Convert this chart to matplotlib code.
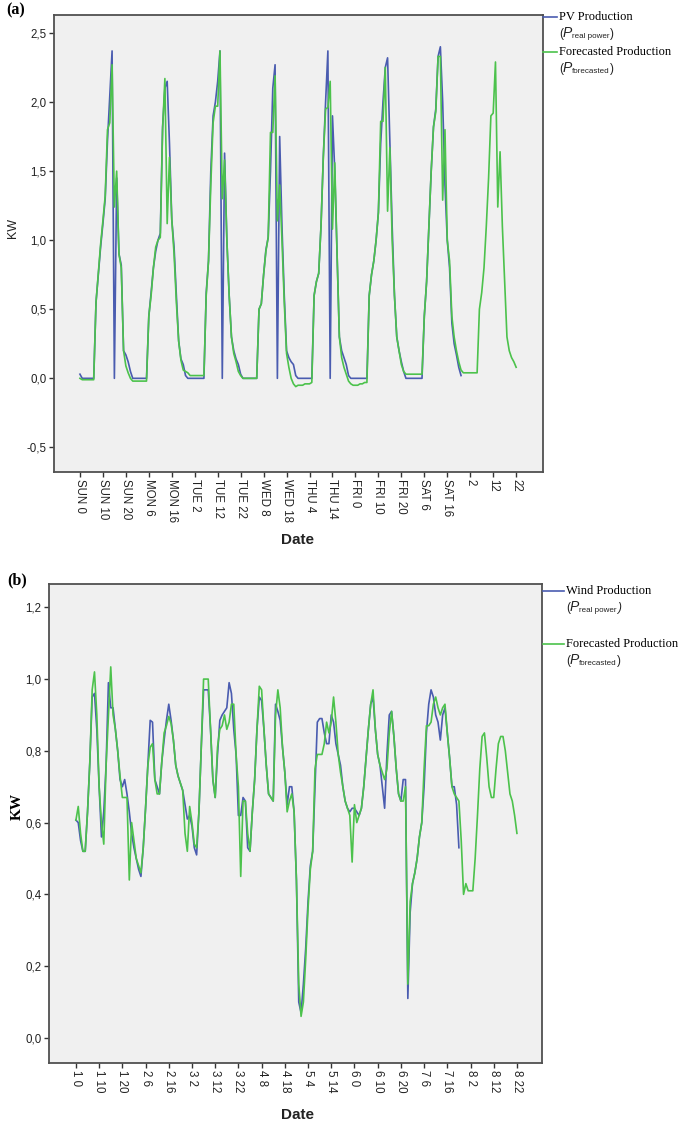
import numpy as np
import matplotlib
matplotlib.use("Agg")
import matplotlib.pyplot as plt
from matplotlib.lines import Line2D

plt.rcParams["font.family"] = ["Liberation Sans", "DejaVu Sans"]

# ---- PV production (kW), hourly, one list per day ----
pv_real_sun = [0.03, 0, 0, 0, 0, 0, 0, 0.55, 0.75, 0.95, 1.12, 1.3, 1.72, 2.05, 2.37, 0.0, 1.45, 0.9, 0.82, 0.2, 0.17, 0.12, 0.05, 0.0]
pv_fc_sun = [0.0, -0.01, -0.01, -0.01, -0.01, -0.01, -0.01, 0.55, 0.76, 0.97, 1.14, 1.32, 1.8, 1.85, 2.27, 1.24, 1.5, 0.9, 0.8, 0.2, 0.09, 0.04, 0.0, -0.02]
pv_real_mon = [0, 0, 0, 0, 0, 0, 0.45, 0.62, 0.8, 0.92, 1.0, 1.05, 1.82, 2.1, 2.15, 1.7, 1.15, 0.95, 0.6, 0.27, 0.14, 0.1, 0.02, 0.0]
pv_fc_mon = [-0.02, -0.02, -0.02, -0.02, -0.02, -0.02, 0.45, 0.6, 0.8, 0.95, 1.0, 1.02, 1.8, 2.17, 1.12, 1.6, 1.15, 0.9, 0.55, 0.27, 0.13, 0.06, 0.05, 0.04]
pv_real_tue = [0, 0, 0, 0, 0, 0, 0, 0.62, 0.85, 1.5, 1.9, 2.0, 2.15, 2.37, 0.0, 1.63, 1.0, 0.6, 0.3, 0.2, 0.14, 0.1, 0.03, 0.0]
pv_fc_tue = [0.02, 0.02, 0.02, 0.02, 0.02, 0.02, 0.02, 0.6, 0.85, 1.4, 1.85, 1.97, 1.97, 2.37, 1.3, 1.58, 1.0, 0.6, 0.3, 0.18, 0.12, 0.05, 0.02, 0.0]
pv_real_wed = [0, 0, 0, 0, 0, 0, 0.5, 0.54, 0.75, 0.93, 1.02, 1.5, 2.1, 2.27, 0.0, 1.75, 1.1, 0.6, 0.2, 0.15, 0.12, 0.1, 0.02, 0.0]
pv_fc_wed = [0.0, 0.0, 0.0, 0.0, 0.0, 0.0, 0.5, 0.54, 0.75, 0.92, 1.02, 1.78, 1.78, 2.19, 1.14, 1.4, 1.0, 0.55, 0.18, 0.08, 0.0, -0.04, -0.06, -0.05]
pv_real_thu = [0, 0, 0, 0, 0, 0, 0.6, 0.7, 0.76, 1.1, 1.6, 2.0, 2.37, 0.0, 1.9, 1.5, 0.9, 0.3, 0.2, 0.15, 0.1, 0.02, 0.0, 0.0]
pv_fc_thu = [-0.05, -0.05, -0.04, -0.04, -0.04, -0.03, 0.6, 0.7, 0.76, 1.1, 1.6, 1.95, 1.96, 2.15, 1.08, 1.56, 0.9, 0.3, 0.15, 0.08, 0.03, -0.02, -0.04, -0.05]
pv_real_fri = [0, 0, 0, 0, 0, 0, 0.6, 0.75, 0.85, 1.0, 1.2, 1.7, 2.0, 2.25, 2.32, 1.7, 1.1, 0.6, 0.3, 0.2, 0.12, 0.05, 0.0, 0.0]
pv_fc_fri = [-0.05, -0.05, -0.04, -0.04, -0.03, -0.03, 0.6, 0.75, 0.85, 1.0, 1.2, 1.86, 1.86, 2.25, 1.21, 1.67, 1.0, 0.6, 0.3, 0.2, 0.1, 0.05, 0.03, 0.03]
pv_real_sat = [0, 0, 0, 0, 0, 0, 0.45, 0.7, 1.1, 1.5, 1.82, 1.95, 2.33, 2.4, 2.0, 1.4, 1.0, 0.8, 0.4, 0.25, 0.17, 0.08, 0.02]
pv_fc_sat = [0.03, 0.03, 0.03, 0.03, 0.03, 0.03, 0.45, 0.7, 1.1, 1.5, 1.82, 1.93, 2.33, 2.33, 1.29, 1.8, 1.0, 0.85, 0.45, 0.3, 0.2, 0.12, 0.06, 0.04]
pv_fc_day8 = [0.04, 0.04, 0.04, 0.04, 0.04, 0.04, 0.5, 0.62, 0.8, 1.1, 1.45, 1.9, 1.92, 2.29, 1.24, 1.64, 1.1, 0.7, 0.3, 0.2, 0.15, 0.12, 0.08]

pv_tick_labels = ["SUN 0", "SUN 10", "SUN 20", "MON 6", "MON 16", "TUE 2", "TUE 12", "TUE 22",
                  "WED 8", "WED 18", "THU 4", "THU 14", "FRI 0", "FRI 10", "FRI 20", "SAT 6",
                  "SAT 16", "2", "12", "22"]
pv_yticks = [-0.5, 0.0, 0.5, 1.0, 1.5, 2.0, 2.5]
pv_ytick_labels = ["-0,5", "0,0", "0,5", "1,0", "1,5", "2,0", "2,5"]

# ---- wind production (kW), hourly, one list per day ----
wind_real_d1 = [0.607, 0.6, 0.55, 0.52, 0.52, 0.63, 0.77, 0.95, 0.96, 0.86, 0.70, 0.56, 0.63, 0.76, 0.99, 0.92, 0.92, 0.86, 0.80, 0.72, 0.70, 0.72, 0.68, 0.63]
wind_fc_d1 = [0.607, 0.645, 0.57, 0.52, 0.52, 0.63, 0.77, 0.97, 1.02, 0.9, 0.70, 0.6, 0.54, 0.76, 0.9, 1.034, 0.9, 0.86, 0.80, 0.73, 0.67, 0.67, 0.67, 0.44]
wind_real_d2 = [0.57, 0.53, 0.5, 0.47, 0.45, 0.53, 0.64, 0.76, 0.885, 0.88, 0.72, 0.7, 0.68, 0.77, 0.83, 0.885, 0.93, 0.885, 0.83, 0.76, 0.73, 0.71, 0.69, 0.65]
wind_fc_d2 = [0.6, 0.55, 0.5, 0.48, 0.46, 0.53, 0.64, 0.76, 0.81, 0.82, 0.72, 0.68, 0.68, 0.77, 0.85, 0.87, 0.896, 0.876, 0.83, 0.76, 0.73, 0.71, 0.69, 0.57]
wind_real_d3 = [0.61, 0.62, 0.59, 0.53, 0.51, 0.63, 0.81, 0.97, 0.97, 0.97, 0.86, 0.72, 0.67, 0.79, 0.885, 0.9, 0.91, 0.92, 0.99, 0.96, 0.86, 0.79, 0.62, 0.62]
wind_fc_d3 = [0.52, 0.645, 0.6, 0.54, 0.53, 0.63, 0.81, 1.0, 1.0, 1.0, 0.86, 0.72, 0.67, 0.81, 0.86, 0.87, 0.9, 0.86, 0.88, 0.93, 0.93, 0.79, 0.70, 0.45]
wind_real_d4 = [0.67, 0.66, 0.53, 0.52, 0.63, 0.72, 0.86, 0.95, 0.94, 0.86, 0.76, 0.68, 0.67, 0.66, 0.93, 0.91, 0.885, 0.81, 0.74, 0.65, 0.7, 0.7, 0.63, 0.44]
wind_fc_d4 = [0.66, 0.66, 0.57, 0.52, 0.63, 0.72, 0.86, 0.98, 0.97, 0.86, 0.76, 0.68, 0.67, 0.66, 0.9, 0.97, 0.92, 0.81, 0.74, 0.63, 0.66, 0.68, 0.63, 0.44]
wind_real_d5 = [0.1, 0.07, 0.15, 0.25, 0.38, 0.48, 0.52, 0.7, 0.88, 0.89, 0.89, 0.85, 0.82, 0.82, 0.9, 0.88, 0.82, 0.79, 0.76, 0.7, 0.66, 0.64, 0.63, 0.64]
wind_fc_d5 = [0.15, 0.06, 0.1, 0.22, 0.36, 0.47, 0.52, 0.75, 0.79, 0.79, 0.79, 0.82, 0.88, 0.85, 0.88, 0.95, 0.88, 0.79, 0.74, 0.7, 0.66, 0.64, 0.62, 0.49]
wind_real_d6 = [0.64, 0.63, 0.62, 0.64, 0.7, 0.78, 0.86, 0.93, 0.95, 0.86, 0.79, 0.76, 0.7, 0.64, 0.79, 0.9, 0.91, 0.84, 0.75, 0.68, 0.66, 0.72, 0.72, 0.11]
wind_fc_d6 = [0.65, 0.6, 0.62, 0.64, 0.7, 0.78, 0.86, 0.93, 0.97, 0.86, 0.79, 0.76, 0.74, 0.72, 0.75, 0.85, 0.91, 0.84, 0.75, 0.68, 0.66, 0.66, 0.7, 0.15]
wind_real_d7 = [0.35, 0.43, 0.46, 0.5, 0.56, 0.6, 0.7, 0.85, 0.93, 0.97, 0.95, 0.9, 0.88, 0.83, 0.9, 0.92, 0.85, 0.78, 0.7, 0.7, 0.65, 0.53]
wind_fc_d7 = [0.38, 0.43, 0.46, 0.5, 0.56, 0.6, 0.75, 0.87, 0.87, 0.88, 0.93, 0.95, 0.92, 0.9, 0.92, 0.93, 0.85, 0.78, 0.7, 0.68, 0.67, 0.66, 0.55, 0.4]
wind_fc_d8 = [0.43, 0.41, 0.41, 0.41, 0.5, 0.62, 0.75, 0.84, 0.85, 0.78, 0.7, 0.67, 0.67, 0.75, 0.82, 0.84, 0.84, 0.8, 0.74, 0.68, 0.66, 0.62, 0.57]

wind_tick_labels = ["1 0", "1 10", "1 20", "2 6", "2 16", "3 2", "3 12", "3 22", "4 8", "4 18",
                    "5 4", "5 14", "6 0", "6 10", "6 20", "7 6", "7 16", "8 2", "8 12", "8 22"]
wind_yticks = [0.0, 0.2, 0.4, 0.6, 0.8, 1.0, 1.2]
wind_ytick_labels = ["0,0", "0,2", "0,4", "0,6", "0,8", "1,0", "1,2"]

tick_hours = np.arange(0, 200, 10)

pv_real = np.array(pv_real_sun + pv_real_mon + pv_real_tue + pv_real_wed + pv_real_thu + pv_real_fri + pv_real_sat)
pv_fc = np.array(pv_fc_sun + pv_fc_mon + pv_fc_tue + pv_fc_wed + pv_fc_thu + pv_fc_fri + pv_fc_sat + pv_fc_day8)
wind_real = np.array(wind_real_d1 + wind_real_d2 + wind_real_d3 + wind_real_d4 + wind_real_d5 + wind_real_d6 + wind_real_d7)
wind_fc = np.array(wind_fc_d1 + wind_fc_d2 + wind_fc_d3 + wind_fc_d4 + wind_fc_d5 + wind_fc_d6 + wind_fc_d7 + wind_fc_d8)

BLUE = "#4a5cb0"
GREEN = "#4cc24c"

W, H = 685, 1123
fig = plt.figure(figsize=(W / 100, H / 100), dpi=100)
fig.patch.set_facecolor("white")


def box(l, t, r, b):
    return [l / W, 1 - b / H, (r - l) / W, (b - t) / H]


def fx(x):
    return x / W


def fy(y):
    return 1 - y / H


def style_axes(ax, xlim, ylim, yticks, ylabels, xlabels):
    ax.set_facecolor("#f0f0f0")
    for s in ax.spines.values():
        s.set_color("#505050")
        s.set_linewidth(1.3)
    ax.set_xlim(*xlim)
    ax.set_ylim(*ylim)
    ax.set_yticks(yticks)
    ax.set_yticklabels(ylabels)
    ax.set_xticks(tick_hours)
    ax.set_xticklabels(xlabels, rotation=270, ha="center", va="top")
    ax.tick_params(direction="out", length=3.8, width=1.0, color="#333333",
                   labelsize=8.3, labelcolor="#222222", pad=1.5)


# (a) PV
ax1 = fig.add_axes(box(54, 15, 543, 472))
ax1.plot(np.arange(len(pv_real)), pv_real, color=BLUE, lw=1.2)
ax1.plot(np.arange(len(pv_fc)), pv_fc, color=GREEN, lw=1.2)
style_axes(ax1, (-11.3, 201.7), (-0.678, 2.63), pv_yticks, pv_ytick_labels, pv_tick_labels)

# (b) wind
ax2 = fig.add_axes(box(49, 584, 542, 1063))
ax2.plot(np.arange(len(wind_real)), wind_real, color=BLUE, lw=1.2)
ax2.plot(np.arange(len(wind_fc)), wind_fc, color=GREEN, lw=1.2)
style_axes(ax2, (-11.6, 200.8), (-0.07, 1.265), wind_yticks, wind_ytick_labels, wind_tick_labels)

# panel labels and axis titles
fig.text(fx(6), fy(10), "(a)", family="Liberation Serif", weight="bold", fontsize=11.5, va="center")
fig.text(fx(7), fy(580), "(b)", family="Liberation Serif", weight="bold", fontsize=11.5, va="center")
fig.text(fx(13), fy(228), "KW", fontsize=9, rotation=90, ha="center", va="center", color="#222222")
fig.text(fx(17), fy(806), "KW", family="Liberation Serif", weight="bold", fontsize=11,
         rotation=90, ha="center", va="center")
fig.text(fx(298), fy(540), "Date", weight="bold", fontsize=11, ha="center", va="center", color="#222222")
fig.text(fx(298), fy(1115), "Date", weight="bold", fontsize=11, ha="center", va="center", color="#222222")


def legend_entry(x0, x1, y, color, title, sub, close_italic=False):
    fig.add_artist(Line2D([fx(x0), fx(x1)], [fy(y), fy(y)], color=color, lw=1.2))
    fig.text(fx(x1 + 2), fy(y), title, family="Liberation Serif", fontsize=9, va="center")
    t = fig.text(fx(x1 + 2), fy(y + 17), "(", fontsize=8.5, va="center", color="#222222")
    t = ax1.annotate("P", xy=(1, 0), xycoords=t, va="bottom", fontsize=10, style="italic",
                     color="#222222", annotation_clip=False)
    t = ax1.annotate(sub, xy=(1, 0), xycoords=t, va="bottom", fontsize=5.8,
                     color="#222222", annotation_clip=False)
    ax1.annotate(")", xy=(1, 0), xycoords=t, va="bottom", fontsize=8.5,
                 style="italic" if close_italic else "normal", color="#222222",
                 annotation_clip=False)


legend_entry(543, 557, 17, BLUE, "PV Production", "real power")
legend_entry(543, 557, 52, GREEN, "Forecasted Production", "forecasted")
legend_entry(543, 564, 591, BLUE, "Wind Production", "real power", close_italic=True)
legend_entry(543, 564, 644, GREEN, "Forecasted Production", "forecasted")

fig.savefig("out.png", dpi=100)
